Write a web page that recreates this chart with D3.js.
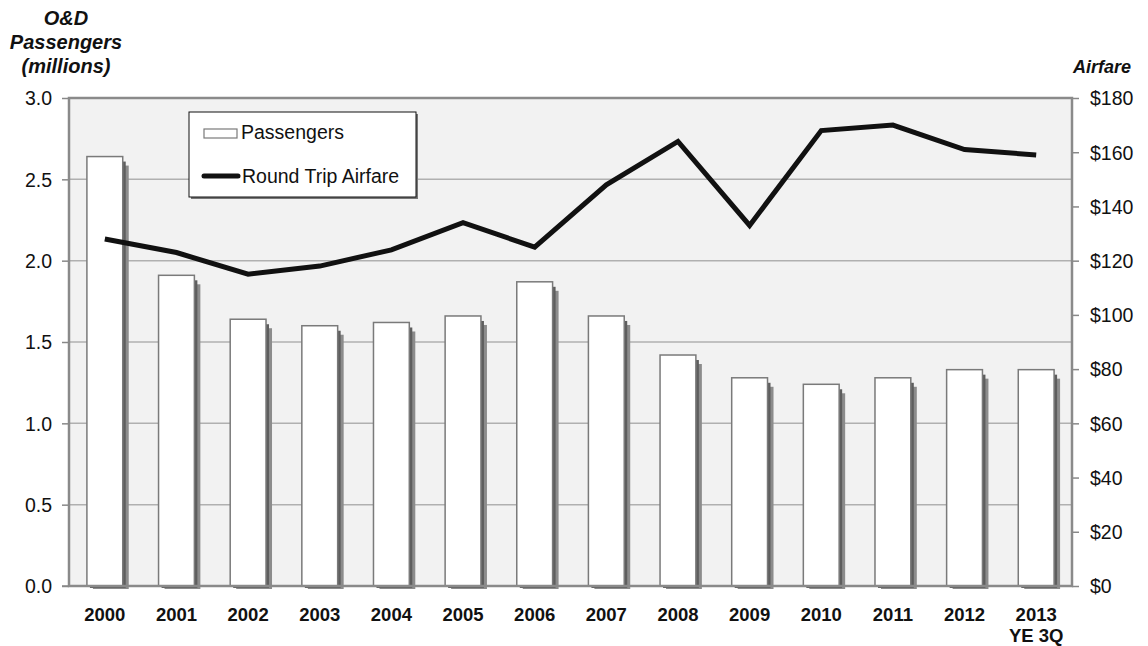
<!DOCTYPE html>
<html>
<head>
<meta charset="utf-8">
<script src="https://cdn.jsdelivr.net/npm/d3@7"></script>
<style>
  body { margin: 0; background: #fff; }
  text { font-family: Arial, "Liberation Sans", sans-serif; fill: #111; }
</style>
</head>
<body>
<svg id="chart" width="1148" height="646"></svg>
<script>
"use strict";

// years on the x axis
const years = ["2000", "2001", "2002", "2003", "2004", "2005", "2006",
               "2007", "2008", "2009", "2010", "2011", "2012", "2013"];
// tick text, second line after "|"
const yearLabels = ["2000", "2001", "2002", "2003", "2004", "2005", "2006",
                    "2007", "2008", "2009", "2010", "2011", "2012", "2013|YE 3Q"];
// O&D passengers, millions
const passengers = [2.64, 1.91, 1.64, 1.60, 1.62, 1.66, 1.87,
                    1.66, 1.42, 1.28, 1.24, 1.28, 1.33, 1.33];
// round trip airfare, dollars
const airfare = [128, 123, 115, 118, 124, 134, 125,
                 148, 164, 133, 168, 170, 161, 159];
const leftTicks = [0, 0.5, 1.0, 1.5, 2.0, 2.5, 3.0];
const rightTicks = [0, 20, 40, 60, 80, 100, 120, 140, 160, 180];

const svg = d3.select("#chart");
const width = +svg.attr("width");
const height = +svg.attr("height");
const margin = { top: 98, right: 76, bottom: 60, left: 69 };
const x0 = margin.left, x1 = width - margin.right;
const yTop = margin.top, yBot = height - margin.bottom;

const x = d3.scaleBand().domain(years).range([x0, x1]);
const yL = d3.scaleLinear().domain([0, 3]).range([yBot, yTop]);
const yR = d3.scaleLinear().domain([0, 180]).range([yBot, yTop]);

// plot background
svg.append("rect")
    .attr("x", x0).attr("y", yTop)
    .attr("width", x1 - x0).attr("height", yBot - yTop)
    .attr("fill", "#f2f2f2");

// gridlines
svg.append("g").selectAll("line")
    .data(leftTicks.filter(d => d > 0 && d < 3))
    .join("line")
    .attr("x1", x0).attr("x2", x1)
    .attr("y1", d => yL(d)).attr("y2", d => yL(d))
    .attr("stroke", "#b0b0b0").attr("stroke-width", 1.5);

// left axis
const axL = svg.append("g")
    .attr("transform", `translate(${x0},0)`)
    .call(d3.axisLeft(yL).tickValues(leftTicks).tickSize(7).tickPadding(10)
        .tickFormat(d3.format(".1f")));
axL.select(".domain").remove();
axL.selectAll("line").attr("stroke", "#888").attr("stroke-width", 1.5);
axL.selectAll("text").style("font-size", "19.5px").attr("fill", "#111")
    .attr("font-family", null).attr("dy", "0.35em");

// right axis
const axR = svg.append("g")
    .attr("transform", `translate(${x1},0)`)
    .call(d3.axisRight(yR).tickValues(rightTicks).tickSize(7).tickPadding(11)
        .tickFormat(d => "$" + d));
axR.select(".domain").remove();
axR.selectAll("line").attr("stroke", "#888").attr("stroke-width", 1.5);
axR.selectAll("text").style("font-size", "19.5px").attr("fill", "#111")
    .attr("font-family", null).attr("dy", "0.35em");

// bars with stepped shadow
const barW = x.bandwidth() * 0.5;
const bars = svg.append("g").selectAll("g")
    .data(years.map((y, i) => ({ year: y, value: passengers[i] })))
    .join("g")
    .attr("transform", d => `translate(${x(d.year) + (x.bandwidth() - barW) / 2},0)`);
bars.append("rect")
    .attr("x", 6).attr("y", d => yL(d.value) + 9)
    .attr("width", barW).attr("height", d => yBot - yL(d.value) - 6)
    .attr("fill", "#8c8c8c");
bars.append("rect")
    .attr("x", 3).attr("y", d => yL(d.value) + 5)
    .attr("width", barW).attr("height", d => yBot - yL(d.value) - 3)
    .attr("fill", "#5e5e5e");
bars.append("rect")
    .attr("x", 0).attr("y", d => yL(d.value))
    .attr("width", barW).attr("height", d => yBot - yL(d.value))
    .attr("fill", "#fff").attr("stroke", "#7a7a7a").attr("stroke-width", 1.5);

// frame
svg.append("rect")
    .attr("x", x0).attr("y", yTop)
    .attr("width", x1 - x0).attr("height", yBot - yTop)
    .attr("fill", "none").attr("stroke", "#8a8a8a").attr("stroke-width", 2.5);
svg.append("line")
    .attr("x1", x0 - 7).attr("x2", x0).attr("y1", yBot).attr("y2", yBot)
    .attr("stroke", "#888").attr("stroke-width", 1.5);

// airfare line
svg.append("path")
    .datum(airfare)
    .attr("fill", "none").attr("stroke", "#111").attr("stroke-width", 5)
    .attr("stroke-linejoin", "miter")
    .attr("d", d3.line()
        .x((d, i) => x(years[i]) + x.bandwidth() / 2)
        .y(d => yR(d)));

// x labels
const xl = svg.append("g").selectAll("text")
    .data(yearLabels)
    .join("text")
    .attr("text-anchor", "middle")
    .style("font-size", "18.5px").style("font-weight", "bold")
    .attr("y", 621);
xl.each(function (d, i) {
    const cx = x(years[i]) + x.bandwidth() / 2;
    d.split("|").forEach((part, k) => {
        d3.select(this).append("tspan")
            .attr("x", cx).attr("dy", k === 0 ? 0 : 21).text(part);
    });
});

// axis titles
const titleL = svg.append("text")
    .attr("text-anchor", "middle")
    .style("font-size", "20px").style("font-weight", "bold").style("font-style", "italic");
["O&D", "Passengers", "(millions)"].forEach((t, k) => {
    titleL.append("tspan").attr("x", 66).attr("y", 25 + k * 24).text(t);
});
svg.append("text")
    .attr("x", 1131).attr("y", 73).attr("text-anchor", "end")
    .style("font-size", "18px").style("font-weight", "bold").style("font-style", "italic")
    .text("Airfare");

// legend
const lg = svg.append("g").attr("transform", "translate(189,112)");
lg.append("rect").attr("x", 2).attr("y", 2).attr("width", 227).attr("height", 85).attr("fill", "#777");
lg.append("rect").attr("width", 227).attr("height", 85)
    .attr("fill", "#fff").attr("stroke", "#111").attr("stroke-width", 1);
lg.append("rect").attr("x", 15).attr("y", 17).attr("width", 33).attr("height", 9)
    .attr("fill", "#fff").attr("stroke", "#7a7a7a").attr("stroke-width", 1.2);
lg.append("line").attr("x1", 15).attr("x2", 49).attr("y1", 64).attr("y2", 64)
    .attr("stroke", "#111").attr("stroke-width", 5).attr("stroke-linecap", "round");
lg.append("text").attr("x", 52).attr("y", 27).style("font-size", "19.5px").text("Passengers");
lg.append("text").attr("x", 53).attr("y", 71).style("font-size", "19.5px").text("Round Trip Airfare");
</script>
</body>
</html>
